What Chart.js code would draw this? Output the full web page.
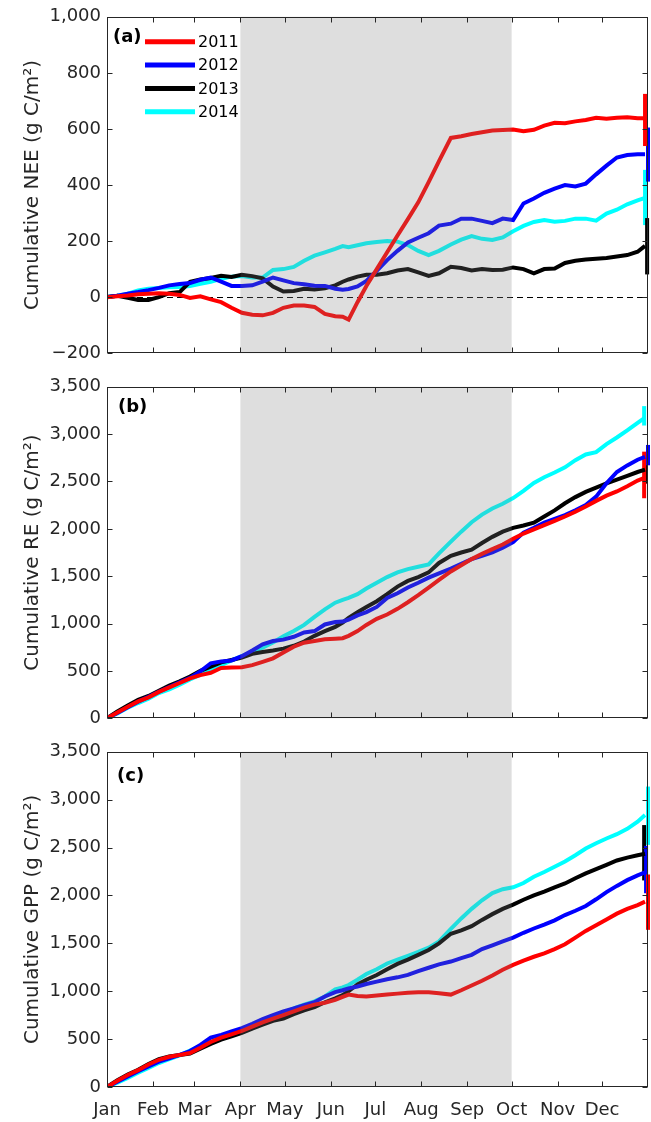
<!DOCTYPE html>
<html>
<head>
<meta charset="utf-8">
<script src="https://cdn.jsdelivr.net/npm/chart.js@4.4.1/dist/chart.umd.min.js"></script>
<style>
  body { margin: 0; background: #fff; width: 651px; height: 1122px; position: relative; overflow: hidden; }
  .panel { position: absolute; left: 0; width: 651px; }
</style>
</head>
<body>
<div class="panel" style="top: 0; height: 370px"><canvas id="chart-a"></canvas></div>
<div class="panel" style="top: 370px; height: 365px"><canvas id="chart-b"></canvas></div>
<div class="panel" style="top: 735px; height: 387px"><canvas id="chart-c"></canvas></div>
<script>
(() => {
  'use strict';

  // day of year for every sample
  const DAYS = [
    1, 8, 15, 22, 29, 36, 43, 50, 57, 64,
    71, 78, 85, 92, 99, 106, 113, 120, 127, 134,
    141, 148, 155, 160, 164, 170, 176, 183, 190, 197,
    204, 211, 218, 225, 233, 240, 247, 254, 261, 268,
    275, 282, 289, 296, 303, 310, 317, 324, 331, 338,
    345, 352, 359, 364,
  ];

  const YEARS = ['2011', '2012', '2013', '2014'];
  const COLORS = ['#ff0000', '#0000ff', '#000000', '#00ffff'];

  // month ticks (first day of month)
  const MONTHS = ['Jan', 'Feb', 'Mar', 'Apr', 'May', 'Jun', 'Jul', 'Aug', 'Sep', 'Oct', 'Nov', 'Dec'];
  const MONTH_DAYS = [1, 32, 60, 91, 121, 152, 182, 213, 244, 274, 305, 335];

  // growing season shading
  const SHADE_FROM = 91, SHADE_TO = 274;

  // (a) cumulative NEE
  const NEE_2011 = [
    0, 3, 6, 10, 12, 14, 12, 8, -3, 3,
    -8, -18, -38, -56, -63, -65, -56, -38, -30, -30,
    -35, -60, -68, -70, -80, -18, 40, 100, 160, 220,
    278, 338, 410, 485, 568, 574, 582, 588, 594, 596,
    598, 592, 597, 612, 622, 620, 627, 632, 640, 636,
    640, 642, 638, 638,
  ];
  const NEE_2012 = [
    0, 5, 12, 18, 25, 33, 42, 47, 50, 62,
    70, 55, 40, 40, 42, 55, 70, 60, 50, 46,
    41, 40, 30, 26, 29, 38, 58, 94, 132, 165,
    195, 212, 228, 255, 262, 280, 280, 272, 264, 280,
    275, 334, 352, 372, 387, 400, 395, 405, 438, 469,
    498, 507, 510, 510,
  ];
  const NEE_2013 = [
    0, 5, -2, -10, -10, 0, 14, 18, 55, 63,
    68, 76, 72, 80, 75, 67, 38, 20, 22, 30,
    27, 32, 42, 55, 63, 73, 80, 80, 85, 95,
    100, 88, 76, 85, 108, 104, 95, 100, 97, 98,
    106, 100, 85, 100, 102, 122, 130, 134, 137, 140,
    145, 150, 162, 183,
  ];
  const NEE_2014 = [
    0, 5, 12, 24, 30, 33, 35, 36, 40, 48,
    55, 65, 73, 75, 70, 70, 97, 100, 108, 130,
    148, 160, 172, 182, 178, 185, 192, 197, 200, 198,
    186, 165, 150, 165, 188, 205, 218, 208, 204, 213,
    235, 254, 268, 275, 269, 272, 280, 280, 273, 298,
    312, 331, 345, 354,
  ];
  const NEE_ERR_DAY = [364, 366, 365.4, 364];
  const NEE_ERR_LO = [539, 412, 81, 257];
  const NEE_ERR_HI = [725, 605, 282, 454];

  // (b) cumulative RE
  const RE_2011 = [
    0, 60, 122, 178, 220, 278, 325, 372, 420, 455,
    480, 530, 535, 538, 560, 595, 632, 695, 755, 797,
    815, 833, 840, 845, 870, 920, 985, 1050, 1095, 1155,
    1225, 1300, 1380, 1460, 1550, 1615, 1680, 1735, 1785, 1835,
    1895, 1950, 1995, 2040, 2085, 2130, 2180, 2235, 2295, 2350,
    2395, 2450, 2510, 2540,
  ];
  const RE_2012 = [
    0, 55, 115, 175, 225, 280, 330, 380, 425, 495,
    580, 600, 610, 655, 715, 780, 815, 830, 860, 905,
    920, 990, 1015, 1020, 1040, 1085, 1120, 1175, 1270, 1320,
    1380, 1430, 1485, 1530, 1580, 1630, 1680, 1715, 1750, 1800,
    1860, 1960, 2010, 2065, 2105, 2145, 2195, 2250, 2340, 2480,
    2600, 2670, 2730, 2760,
  ];
  const RE_2013 = [
    0, 70, 135, 195, 235, 290, 345, 390, 440, 500,
    545, 590, 615, 640, 680, 700, 715, 735, 765, 810,
    870, 920, 965, 1010, 1060, 1120, 1175, 1235, 1310, 1390,
    1450, 1490, 1540, 1640, 1715, 1750, 1780, 1850, 1915, 1970,
    2010, 2035, 2065, 2130, 2195, 2270, 2335, 2390, 2435, 2480,
    2520, 2560, 2600, 2625,
  ];
  const RE_2014 = [
    0, 50, 110, 160, 205, 265, 305, 355, 410, 460,
    510, 560, 610, 655, 700, 745, 800, 865, 920, 985,
    1070, 1150, 1220, 1250, 1270, 1310, 1370, 1430, 1490, 1540,
    1575, 1600, 1625, 1740, 1865, 1970, 2070, 2150, 2215, 2265,
    2325, 2400, 2485, 2545, 2595, 2650, 2725, 2785, 2810, 2895,
    2965, 3040, 3120, 3175,
  ];
  const RE_ERR_DAY = [363.4, 366, 364, 363.4];
  const RE_ERR_LO = [2323, 2671, 2477, 3091];
  const RE_ERR_HI = [2815, 2886, 2794, 3296];

  // (c) cumulative GPP
  const GPP_2011 = [
    0, 66, 126, 176, 235, 284, 316, 335, 355, 410,
    470, 515, 550, 585, 630, 675, 715, 750, 790, 828,
    860, 880, 910, 940, 965, 950, 945, 955, 965, 975,
    985, 990, 990, 980, 965, 1010, 1060, 1110, 1165, 1225,
    1275, 1320, 1360, 1395, 1440, 1490, 1560, 1630, 1690, 1750,
    1810, 1860, 1900, 1935,
  ];
  const GPP_2012 = [
    0, 55, 110, 165, 215, 265, 300, 335, 375, 440,
    515, 545, 580, 615, 660, 710, 750, 790, 820, 855,
    885, 945, 990, 1010, 1030, 1050, 1075, 1100, 1125, 1145,
    1170, 1210, 1245, 1280, 1310, 1345, 1380, 1440, 1480, 1520,
    1560, 1610, 1655, 1695, 1740, 1795, 1840, 1890, 1960, 2035,
    2100, 2160, 2210, 2240,
  ];
  const GPP_2013 = [
    0, 70, 130, 180, 240, 290, 320, 335, 350, 400,
    450, 495, 530, 565, 610, 650, 690, 715, 760, 800,
    835, 885, 925, 960, 1000, 1070, 1120, 1170, 1230, 1285,
    1330, 1380, 1430, 1500, 1600, 1635, 1680, 1745, 1805, 1860,
    1905, 1955, 2000, 2040, 2085, 2125, 2180, 2230, 2275, 2320,
    2365, 2395, 2420, 2435,
  ];
  const GPP_2014 = [
    0, 45, 95, 148, 200, 250, 290, 330, 380, 430,
    470, 510, 545, 585, 635, 670, 720, 770, 820, 860,
    895, 945, 1020, 1040, 1065, 1120, 1180, 1230, 1290, 1330,
    1370, 1410, 1455, 1520, 1650, 1760, 1860, 1950, 2025, 2065,
    2085, 2130, 2195, 2245, 2300, 2355, 2420, 2490, 2545, 2595,
    2640, 2695, 2770, 2840,
  ];
  const GPP_ERR_DAY = [366, 364.7, 363.4, 366];
  const GPP_ERR_LO = [1641, 2023, 2157, 2528];
  const GPP_ERR_HI = [2219, 2518, 2735, 3137];

  const INK = '#262626';
  const FONT = "'DejaVu Sans', 'Liberation Sans', Arial, sans-serif";

  // thousands separator, true minus sign
  const fmt = (v) => (v < 0 ? '\u2212' : '') + String(Math.abs(v)).replace(/\B(?=(\d{3})+(?!\d))/g, ',');

  // shading, zero line, box, inward ticks, panel label, legend
  const frame_plugin = {
    id: 'frame',

    beforeDatasetsDraw(chart, args, o) {
      if (!o.zero) return;
      const {ctx, chartArea: a, scales: {y}} = chart;
      const py = Math.round(y.getPixelForValue(0)) + 0.5;
      ctx.save();
      ctx.strokeStyle = '#000';
      ctx.lineWidth = 1;
      ctx.setLineDash([6, 4]);
      ctx.beginPath();
      ctx.moveTo(a.left, py);
      ctx.lineTo(a.right, py);
      ctx.stroke();
      ctx.restore();
    },

    afterDatasetsDraw(chart, args, o) {
      const {ctx, chartArea: a, scales: {x, y}} = chart;
      ctx.save();

      // translucent season patch over the lines
      const x0 = x.getPixelForValue(SHADE_FROM), x1 = x.getPixelForValue(SHADE_TO);
      ctx.fillStyle = 'rgba(128,128,128,0.26)';
      ctx.fillRect(x0, a.top, x1 - x0, a.bottom - a.top);

      // box
      const l = Math.round(a.left) + 0.5, r = Math.round(a.right) - 0.5,
            t = Math.round(a.top) + 0.5, b = Math.round(a.bottom) - 0.5;
      ctx.strokeStyle = INK;
      ctx.lineWidth = 1;
      ctx.strokeRect(l, t, r - l, b - t);

      // inward tick marks
      ctx.beginPath();
      y.ticks.forEach((tk) => {
        const py = Math.round(y.getPixelForValue(tk.value)) + 0.5;
        ctx.moveTo(l, py); ctx.lineTo(l + 5, py);
        ctx.moveTo(r, py); ctx.lineTo(r - 5, py);
      });
      MONTH_DAYS.forEach((d) => {
        const px = Math.round(x.getPixelForValue(d)) + 0.5;
        ctx.moveTo(px, t); ctx.lineTo(px, t + 5);
        ctx.moveTo(px, b); ctx.lineTo(px, b - 5);
      });
      ctx.stroke();

      // panel label
      ctx.fillStyle = '#000';
      ctx.font = `bold 18px ${FONT}`;
      ctx.textBaseline = 'middle';
      ctx.textAlign = 'left';
      ctx.fillText(o.label, a.left + o.lx, a.top + o.ly);

      // legend
      if (o.legend) {
        ctx.font = `16px ${FONT}`;
        chart.data.datasets.filter((ds) => ds.label).forEach((ds, i) => {
          const py = a.top + 25 + i * 23.3;
          ctx.strokeStyle = ds.borderColor;
          ctx.lineWidth = 5;
          ctx.beginPath();
          ctx.moveTo(a.left + 38, py);
          ctx.lineTo(a.left + 88, py);
          ctx.stroke();
          ctx.fillStyle = '#000';
          ctx.fillText(ds.label, a.left + 91, py + 1);
        });
      }

      ctx.restore();
    },
  };

  // build one panel
  const make_chart = (id, cfg) => {
    const datasets = cfg.series.map((vals, i) => ({
      label: YEARS[i],
      data: DAYS.map((d, j) => ({x: d, y: vals[j]})),
      borderColor: COLORS[i],
      borderWidth: 4,
      pointRadius: 0,
      tension: 0,
      fill: false,
    })).concat(cfg.err_day.map((d, i) => ({
      label: '',
      data: [{x: d, y: cfg.err_lo[i]}, {x: d, y: cfg.err_hi[i]}],
      borderColor: COLORS[i],
      borderWidth: 4,
      borderCapStyle: 'butt',
      pointRadius: 0,
      clip: false,
    })));

    return new Chart(document.getElementById(id), {
      type: 'line',
      data: {datasets},
      options: {
        responsive: true,
        maintainAspectRatio: false,
        animation: false,
        events: [],
        layout: {padding: {top: cfg.pad_top, right: 3, left: 0, bottom: 0}},

        scales: {
          x: {
            type: 'linear',
            min: 1,
            max: 366,
            grid: {display: false, drawTicks: false},
            border: {display: false},
            afterBuildTicks: (s) => { s.ticks = MONTH_DAYS.map((v) => ({value: v})); },
            afterFit: (s) => { s.height = cfg.x_height; },
            ticks: {
              display: cfg.x_labels,
              autoSkip: false,
              maxRotation: 0,
              padding: 13,
              color: INK,
              font: {family: FONT, size: 18},
              callback: (v, i) => MONTHS[i],
            },
          },

          y: {
            min: cfg.y_min,
            max: cfg.y_max,
            grid: {display: false, drawTicks: false},
            border: {display: false},
            afterFit: (s) => { s.width = 107; },
            ticks: {
              stepSize: cfg.y_step,
              padding: 6,
              color: INK,
              font: {family: FONT, size: 18},
              callback: (v) => fmt(v),
            },
            title: {
              display: true,
              text: cfg.y_title,
              color: INK,
              font: {family: FONT, size: 20},
              padding: {top: 21, bottom: 0},
            },
          },
        },

        plugins: {
          legend: {display: false},
          tooltip: {enabled: false},
          frame: {label: cfg.label, lx: cfg.lx, ly: cfg.ly, zero: cfg.zero, legend: cfg.legend},
        },
      },
      plugins: [frame_plugin],
    });
  };

  make_chart('chart-a', {
    series: [NEE_2011, NEE_2012, NEE_2013, NEE_2014],
    err_day: NEE_ERR_DAY, err_lo: NEE_ERR_LO, err_hi: NEE_ERR_HI,
    y_min: -200, y_max: 1000, y_step: 200,
    y_title: 'Cumulative NEE (g C/m\u00b2)',
    pad_top: 16, x_height: 13, x_labels: false,
    label: '(a)', lx: 6, ly: 21, zero: true, legend: true,
  });

  make_chart('chart-b', {
    series: [RE_2011, RE_2012, RE_2013, RE_2014],
    err_day: RE_ERR_DAY, err_lo: RE_ERR_LO, err_hi: RE_ERR_HI,
    y_min: 0, y_max: 3500, y_step: 500,
    y_title: 'Cumulative RE (g C/m\u00b2)',
    pad_top: 12, x_height: 11, x_labels: false,
    label: '(b)', lx: 11, ly: 21, zero: false, legend: false,
  });

  make_chart('chart-c', {
    series: [GPP_2011, GPP_2012, GPP_2013, GPP_2014],
    err_day: GPP_ERR_DAY, err_lo: GPP_ERR_LO, err_hi: GPP_ERR_HI,
    y_min: 0, y_max: 3500, y_step: 500,
    y_title: 'Cumulative GPP (g C/m\u00b2)',
    pad_top: 13, x_height: 35, x_labels: true,
    label: '(c)', lx: 10, ly: 25, zero: false, legend: false,
  });
})();
</script>
</body>
</html>
